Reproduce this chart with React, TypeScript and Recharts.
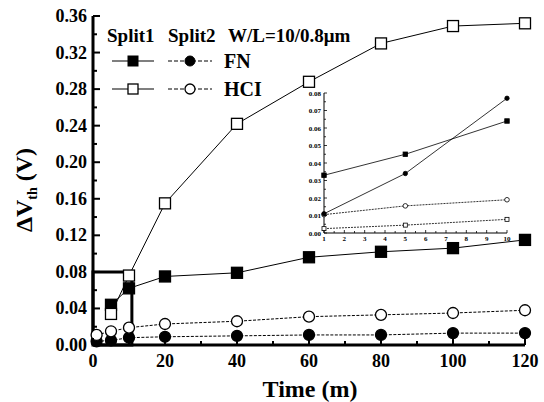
import React from "react";
import { LineChart, Line, XAxis, YAxis, ReferenceArea } from "recharts";

// main chart data (stress time in minutes, delta Vth in volts)
const time = [1, 5, 10, 20, 40, 60, 80, 100, 120];
const split1FN = [null, 0.044, 0.062, 0.075, 0.079, 0.096, 0.102, 0.106, 0.115];
const split1HCI = [null, 0.034, 0.076, 0.155, 0.242, 0.288, 0.33, 0.349, 0.352];
const split2FN = [0.004, 0.005, 0.008, 0.009, 0.01, 0.011, 0.011, 0.013, 0.013];
const split2HCI = [0.011, 0.015, 0.019, 0.023, 0.026, 0.031, 0.033, 0.035, 0.038];

const xTicks = [0, 10, 20, 30, 40, 50, 60, 70, 80, 90, 100, 110, 120];
const yTicks = [0, 0.02, 0.04, 0.06, 0.08, 0.1, 0.12, 0.14, 0.16, 0.18, 0.2, 0.22, 0.24, 0.26, 0.28, 0.3, 0.32, 0.34, 0.36];

// inset (zoom of first 10 minutes)
const insetTime = [1, 5, 10];
const insetSplit1FN = [0.033, 0.045, 0.064];
const insetSplit1HCI = [0.011, 0.034, 0.077];
const insetSplit2HCI = [0.0105, 0.0155, 0.019];
const insetSplit2FN = [0.0025, 0.0045, 0.0078];

const insetXTicks = [1, 1.5, 2, 2.5, 3, 3.5, 4, 4.5, 5, 5.5, 6, 6.5, 7, 7.5, 8, 8.5, 9, 9.5, 10];
const insetYTicks = [0, 0.005, 0.01, 0.015, 0.02, 0.025, 0.03, 0.035, 0.04, 0.045, 0.05, 0.055, 0.06, 0.065, 0.07, 0.075, 0.08];

const bold = { fontFamily: "Liberation Serif", fontWeight: 700 };

const rows = time.map((t, i) => ({
  t, s1fn: split1FN[i], s1hci: split1HCI[i], s2fn: split2FN[i], s2hci: split2HCI[i],
}));
const insetRows = insetTime.map((t, i) => ({
  t, s1fn: insetSplit1FN[i], s1hci: insetSplit1HCI[i], s2fn: insetSplit2FN[i], s2hci: insetSplit2HCI[i],
}));

const squareDot = (size: number, filled: boolean, sw = 1.3) => (p: any) => {
  if (p.cx == null || p.cy == null || p.value == null) return <g key={p.index} />;
  return (
    <rect key={p.index} x={p.cx - size / 2} y={p.cy - size / 2} width={size} height={size}
      fill={filled ? "#000" : "#fff"} stroke="#000" strokeWidth={sw} />
  );
};
const circleDot = (r: number, filled: boolean, sw = 1.3) => (p: any) => {
  if (p.cx == null || p.cy == null || p.value == null) return <g key={p.index} />;
  return <circle key={p.index} cx={p.cx} cy={p.cy} r={r} fill={filled ? "#000" : "#fff"} stroke="#000" strokeWidth={sw} />;
};

const isMajorY = (v: number) => Math.round(v * 100) % 4 === 0;

function BottomTick({ x, y, payload }: any) {
  const major = payload.value % 20 === 0;
  return (
    <g>
      <line x1={x} x2={x} y1={y} y2={y - (major ? 7 : 4)} stroke="#000" strokeWidth={2} />
      {major && (
        <text x={x} y={y + 22} textAnchor="middle" style={{ ...bold, fontSize: 18 }}>
          {payload.value}
        </text>
      )}
    </g>
  );
}
function TopTick({ x, y, payload }: any) {
  const major = payload.value % 20 === 0;
  return <line x1={x} x2={x} y1={y} y2={y + (major ? 7 : 4)} stroke="#000" strokeWidth={2} />;
}
function LeftTick({ x, y, payload }: any) {
  const major = isMajorY(payload.value);
  return (
    <g>
      <line x1={x} x2={x + (major ? 7 : 4)} y1={y} y2={y} stroke="#000" strokeWidth={2} />
      {major && (
        <text x={x - 6} y={y + 6} textAnchor="end" style={{ ...bold, fontSize: 18 }}>
          {payload.value.toFixed(2)}
        </text>
      )}
    </g>
  );
}
function RightTick({ x, y, payload }: any) {
  const major = isMajorY(payload.value);
  return <line x1={x} x2={x - (major ? 7 : 4)} y1={y} y2={y} stroke="#000" strokeWidth={2} />;
}

function InsetBottomTick({ x, y, payload }: any) {
  const major = Number.isInteger(payload.value);
  return (
    <g>
      <line x1={x} x2={x} y1={y} y2={y - (major ? 3 : 2)} stroke="#000" strokeWidth={0.8} />
      {major && (
        <text x={x} y={y + 8} textAnchor="middle" style={{ ...bold, fontSize: 7 }}>
          {payload.value}
        </text>
      )}
    </g>
  );
}
function InsetTopTick({ x, y, payload }: any) {
  const major = Number.isInteger(payload.value);
  return <line x1={x} x2={x} y1={y} y2={y + (major ? 3 : 2)} stroke="#000" strokeWidth={0.8} />;
}
function InsetLeftTick({ x, y, payload }: any) {
  const major = Math.round(payload.value * 1000) % 10 === 0;
  return (
    <g>
      <line x1={x} x2={x + (major ? 3 : 2)} y1={y} y2={y} stroke="#000" strokeWidth={0.8} />
      {major && (
        <text x={x - 3} y={y + 2.5} textAnchor="end" style={{ ...bold, fontSize: 7 }}>
          {payload.value.toFixed(2)}
        </text>
      )}
    </g>
  );
}
function InsetRightTick({ x, y, payload }: any) {
  const major = Math.round(payload.value * 1000) % 10 === 0;
  return <line x1={x} x2={x - (major ? 3 : 2)} y1={y} y2={y} stroke="#000" strokeWidth={0.8} />;
}

function Inset() {
  return (
    <LineChart width={216} height={162} data={insetRows} margin={{ top: 9, right: 9, bottom: 2, left: 6 }}>
      <XAxis xAxisId="b" dataKey="t" type="number" domain={[1, 10]} ticks={insetXTicks} interval={0}
        tickSize={0} tickMargin={0} tickLine={false} tick={<InsetBottomTick />} height={11}
        axisLine={{ stroke: "#000", strokeWidth: 1 }} />
      <XAxis xAxisId="tp" orientation="top" dataKey="t" type="number" domain={[1, 10]} ticks={insetXTicks} interval={0}
        tickSize={0} tickMargin={0} tickLine={false} tick={<InsetTopTick />} height={0}
        axisLine={{ stroke: "#000", strokeWidth: 1 }} />
      <YAxis yAxisId="l" type="number" domain={[0, 0.08]} ticks={insetYTicks} interval={0} width={18}
        tickSize={0} tickMargin={0} tickLine={false} tick={<InsetLeftTick />}
        axisLine={{ stroke: "#000", strokeWidth: 1 }} />
      <YAxis yAxisId="r" orientation="right" type="number" domain={[0, 0.08]} ticks={insetYTicks} interval={0} width={0}
        tickSize={0} tickMargin={0} tickLine={false} tick={<InsetRightTick />}
        axisLine={{ stroke: "#000", strokeWidth: 1 }} />
      <Line xAxisId="b" yAxisId="l" dataKey="s2fn" stroke="#000" strokeWidth={0.8} strokeDasharray="2 1"
        dot={squareDot(4, false, 0.8)} isAnimationActive={false} />
      <Line xAxisId="b" yAxisId="l" dataKey="s2hci" stroke="#000" strokeWidth={0.8} strokeDasharray="2 1"
        dot={circleDot(2.3, false, 0.8)} isAnimationActive={false} />
      <Line xAxisId="b" yAxisId="l" dataKey="s1hci" stroke="#000" strokeWidth={0.8}
        dot={circleDot(2.2, true, 0.8)} isAnimationActive={false} />
      <Line xAxisId="b" yAxisId="l" dataKey="s1fn" stroke="#000" strokeWidth={0.8}
        dot={squareDot(4.5, true, 0.8)} isAnimationActive={false} />
    </LineChart>
  );
}

function Overlay() {
  return (
    <svg width={544} height={402} style={{ position: "absolute", left: 0, top: 0, pointerEvents: "none" }}>
      <text x={107} y={42} style={{ ...bold, fontSize: 19 }}>Split1</text>
      <text x={168} y={42} style={{ ...bold, fontSize: 19 }}>Split2</text>
      <text x={228} y={42} style={{ ...bold, fontSize: 19 }}>W/L=10/0.8μm</text>

      <line x1={112} x2={154} y1={61} y2={61} stroke="#000" strokeWidth={1.2} />
      <rect x={128} y={56} width={10} height={10} fill="#000" stroke="#000" />
      <line x1={168} x2={212} y1={61} y2={61} stroke="#000" strokeWidth={1.2} strokeDasharray="4 2" />
      <circle cx={190} cy={61} r={5} fill="#000" stroke="#000" />
      <text x={224} y={68} style={{ ...bold, fontSize: 20 }}>FN</text>

      <line x1={112} x2={154} y1={89} y2={89} stroke="#000" strokeWidth={1.2} />
      <rect x={128} y={84} width={10} height={10} fill="#fff" stroke="#000" strokeWidth={1.3} />
      <line x1={168} x2={212} y1={89} y2={89} stroke="#000" strokeWidth={1.2} strokeDasharray="4 2" />
      <circle cx={190} cy={89} r={5} fill="#fff" stroke="#000" strokeWidth={1.3} />
      <text x={224} y={96} style={{ ...bold, fontSize: 20 }}>HCI</text>

      <text transform="translate(32,190) rotate(-90)" textAnchor="middle" style={{ ...bold, fontSize: 24 }}>
        ΔV<tspan style={{ fontSize: 14 }} dy={5}>th</tspan><tspan style={{ fontSize: 24 }} dy={-5}> (V)</tspan>
      </text>
      <text x={310} y={397} textAnchor="middle" style={{ ...bold, fontSize: 24 }}>Time (m)</text>
    </svg>
  );
}

export default function App() {
  return (
    <div style={{ position: "absolute", left: 0, top: 0, width: 544, height: 402, background: "#fff" }}>
      <LineChart width={544} height={402} data={rows} margin={{ top: 16, right: 19, bottom: 27, left: 33 }}>
        <XAxis xAxisId="bottom" dataKey="t" type="number" domain={[0, 120]} ticks={xTicks} interval={0}
          tickSize={0} tickMargin={0} tickLine={false} tick={<BottomTick />} height={30}
          axisLine={{ stroke: "#000", strokeWidth: 3 }} />
        <XAxis xAxisId="top" orientation="top" dataKey="t" type="number" domain={[0, 120]} ticks={xTicks} interval={0}
          tickSize={0} tickMargin={0} tickLine={false} tick={<TopTick />} height={0}
          axisLine={{ stroke: "#000", strokeWidth: 2.5 }} />
        <YAxis yAxisId="left" type="number" domain={[0, 0.36]} ticks={yTicks} interval={0} width={60}
          tickSize={0} tickMargin={0} tickLine={false} tick={<LeftTick />}
          axisLine={{ stroke: "#000", strokeWidth: 3 }} />
        <YAxis yAxisId="right" orientation="right" type="number" domain={[0, 0.36]} ticks={yTicks} interval={0} width={0}
          tickSize={0} tickMargin={0} tickLine={false} tick={<RightTick />}
          axisLine={{ stroke: "#000", strokeWidth: 3 }} />
        <ReferenceArea xAxisId="bottom" yAxisId="left" x1={0} x2={10.8} y1={0} y2={0.08}
          fill="none" stroke="#000" strokeWidth={3} />
        <Line xAxisId="bottom" yAxisId="left" dataKey="s2fn" stroke="#000" strokeWidth={1} strokeDasharray="3 1.5"
          dot={circleDot(5.5, true)} isAnimationActive={false} />
        <Line xAxisId="bottom" yAxisId="left" dataKey="s2hci" stroke="#000" strokeWidth={1} strokeDasharray="3 1.5"
          dot={circleDot(5.5, false)} isAnimationActive={false} />
        <Line xAxisId="bottom" yAxisId="left" dataKey="s1fn" stroke="#000" strokeWidth={1}
          dot={squareDot(11, true)} isAnimationActive={false} />
        <Line xAxisId="bottom" yAxisId="left" dataKey="s1hci" stroke="#000" strokeWidth={1}
          dot={squareDot(11, false)} isAnimationActive={false} />
      </LineChart>
      <div style={{ position: "absolute", left: 300, top: 84 }}>
        <Inset />
      </div>
      <Overlay />
    </div>
  );
}
